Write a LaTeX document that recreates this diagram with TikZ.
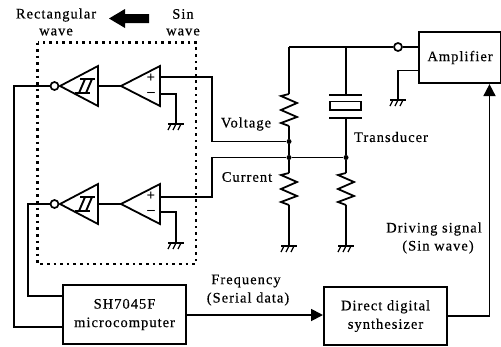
\documentclass[tikz,border=0pt]{standalone}
\usepackage{fontspec}
\setmainfont{Liberation Serif}
\newfontfamily\lblfont[LetterSpace=7,FakeBold=0.4]{Liberation Serif}
\usetikzlibrary{arrows.meta,calc}
\tikzset{
  x=1pt,y=-1pt,
  wire/.style={line width=1.8pt,line join=miter},
  sym/.style={line width=1.8pt,line join=miter},
  blockbox/.style={draw,line width=2.1pt,anchor=north west,inner sep=0pt,align=center,font=\lblfont\fontsize{14.5}{18.5}\selectfont},
  lbl/.style={inner sep=0pt,align=center,font=\lblfont\fontsize{14.5}{18}\selectfont},
  bubble/.style={circle,draw,line width=1.7pt,minimum size=8pt,inner sep=0pt},
  junction/.style={circle,fill,minimum size=5pt,inner sep=0pt},
  signal/.style={font=\bfseries\fontsize{15}{15}\selectfont,inner sep=0pt},
  tip/.style={-{Triangle[length=12pt,width=12pt]}}
}
\newcommand{\gnd}[1]{%
  \draw[line width=1.5pt] ($(#1)+(-8,0)$) -- ($(#1)+(8,0)$);
  \foreach \dx in {-5,0,5}{\draw[line width=1.2pt] ($(#1)+(\dx,0)$) -- ($(#1)+(\dx-3,6)$);}
}
\newcommand{\zig}[2]{%
  \draw[wire] (#1) -- ++(-8,2) -- ++(16,7) -- ++(-16,7) -- ++(16,7) -- ++(-16,6) -- (#2);
}
\newcommand{\opamp}[2]{%
  \draw[sym] (#1,#2) -- (#1+39,#2-20) -- (#1+39,#2+20) -- cycle;
  \node[signal] at (#1+30,#2-8) {+};
  \node[signal] at (#1+30,#2+8) {--};
}
\newcommand{\hyst}[2]{%
  \draw[sym] (#1,#2) -- (#1+38,#2-20) -- (#1+38,#2+20) -- cycle;
  \draw[line width=1.4pt] (#1+20,#2-7) -- (#1+35,#2-7);
  \draw[line width=1.4pt] (#1+15,#2+7) -- (#1+30,#2+7);
  \draw[line width=1.9pt] (#1+25,#2-7) -- (#1+19,#2+7);
  \draw[line width=1.9pt] (#1+32,#2-7) -- (#1+26,#2+7);
}
\begin{document}
\begin{tikzpicture}
\useasboundingbox (0,0) rectangle (501,346);
% dotted enclosure
\draw[line width=2.3pt,dash pattern=on 2.6pt off 4pt] (37.5,42.5) rectangle (196,264);
% blocks
\node[blockbox,minimum width=123pt,minimum height=59pt] (mcu) at (62,284) {SH7045F\\microcomputer};
\node[blockbox,minimum width=123pt,minimum height=58pt] (dds) at (323,286) {Direct digital\\synthesizer};
\node[blockbox,minimum width=82pt,minimum height=51pt] (amp) at (418,31) {Amplifier};
% gates
\hyst{60}{86}
\hyst{60}{204}
\opamp{121}{86}
\opamp{121}{204}
\node[bubble] (b1) at (54.5,86) {};
\node[bubble] (b2) at (54.5,204) {};
\node[bubble] (b3) at (398,47) {};
\coordinate (s1) at (98,86); \coordinate (o1) at (121,86);
\coordinate (s2) at (98,204); \coordinate (o2) at (121,204);
\draw[wire] (s1) -- (o1);
\draw[wire] (s2) -- (o2);
% outputs to microcomputer
\draw[wire] (b1.west) -- (14,86) -- (14,327) -- (mcu.west |- 0,327);
\draw[wire] (b2.west) -- (28,204) -- (28,296) -- (mcu.west |- 0,296);
% junctions
\node[junction] (jv) at (289,141.5) {};
\node[junction] (jl) at (289,157.5) {};
\node[junction] (jr) at (346,157.5) {};
% opamp inputs
\coordinate (p1) at (160,77); \coordinate (m1) at (160,94);
\coordinate (p2) at (160,197); \coordinate (m2) at (160,212);
\coordinate (g1) at (176,124); \coordinate (g2) at (176,243);
\draw[wire] (p1) -- (212,77) -- (212,141.5) -- (jv);
\draw[wire] (p2) -- (212,197) -- (212,157.5) -- (jl);
\draw[wire] (m1) -- (176,94) -- (g1);
\draw[wire] (m2) -- (176,212) -- (g2);
\gnd{g1}\gnd{g2}
% top rail
\coordinate (rl) at (289,47);
\coordinate (rt) at (346,47);
\draw[wire] (rl) -- (b3.west);
\draw[wire] (b3.east) -- (amp.west |- b3);
% amplifier ground
\coordinate (g3) at (398,100);
\draw[wire] (amp.west |- 0,70.5) -- (398,70.5) -- (g3);
\gnd{g3}
% left resistors
\coordinate (r1t) at (289,94); \coordinate (r1b) at (289,126);
\zig{r1t}{r1b}
\draw[wire] (rl) -- (r1t);
\draw[wire] (r1b) -- (jv) -- (jl);
\coordinate (r2t) at (289,173); \coordinate (r2b) at (289,205);
\zig{r2t}{r2b}
\coordinate (g4) at (289,246);
\draw[wire] (jl) -- (r2t); \draw[wire] (r2b) -- (g4);
\gnd{g4}
% right resistor
\coordinate (r3t) at (346,173); \coordinate (r3b) at (346,205);
\zig{r3t}{r3b}
\coordinate (g5) at (346,246);
\draw[wire] (jr) -- (r3t); \draw[wire] (r3b) -- (g5);
\gnd{g5}
\draw[wire] (jl) -- (jr);
% transducer
\coordinate (t1) at (346,94); \coordinate (t2) at (346,118);
\draw[wire] (rt) -- (t1);
\draw[wire] (t2) -- (jr);
\draw[line width=2pt] (329,94.5) -- (362,94.5);
\draw[line width=2pt] (329,118) -- (362,118);
\draw[line width=1.7pt] (330,101.5) rectangle (361,110);
% signal paths
\draw[wire,tip] (mcu.east |- 0,315) -- (dds.west |- 0,315);
\draw[wire,tip] (dds.east |- 0,316) -- (489.5,316) -- (amp.south -| 489.5,0);
% big arrow
\fill (149,14) -- (125,14) -- (125,9) -- (109,18.5) -- (125,28) -- (125,23) -- (149,23) -- cycle;
% labels
\node[lbl] (t-rect) at (56,15) {Rectangular};
\node[lbl] (t-wl) at (56,32) {wave};
\node[lbl] (t-sin) at (183,14) {Sin};
\node[lbl] (t-wr) at (183,32) {wave};
\node[lbl] (t-volt) at (246,124) {Voltage};
\node[lbl] (t-curr) at (247,177) {Current};
\node[lbl] (t-tran) at (391,137) {Transducer};
\node[lbl] (t-driv) at (434,229) {Driving signal};
\node[lbl] (t-sinw) at (438,247) {(Sin wave)};
\node[lbl] (t-freq) at (246,281) {Frequency};
\node[lbl] (t-ser) at (248,299) {(Serial data)};
\end{tikzpicture}
\end{document}
